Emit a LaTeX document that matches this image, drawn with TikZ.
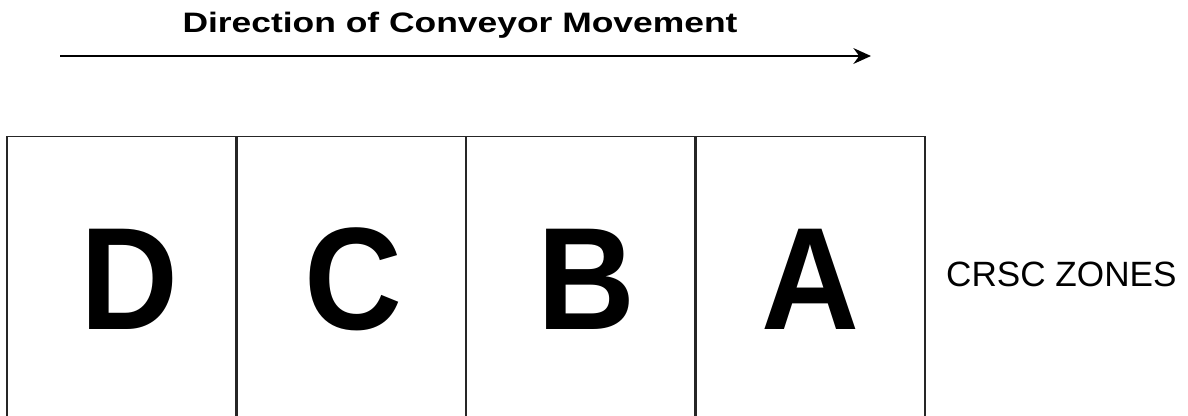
\documentclass[tikz,border=0pt]{standalone}
\usepackage{fontspec}
\setmainfont{Liberation Sans}
\newfontfamily\widefont[FakeStretch=1.26]{Liberation Sans}
\newfontfamily\zonefont[FakeStretch=0.93]{Liberation Sans}
\usetikzlibrary{arrows.meta}

\begin{document}
\begin{tikzpicture}[
    x=0.02cm,
    y=-0.02cm,
    zone/.style={
        rectangle,
        draw=black!85,
        line width=0.9pt,
        minimum width=4.6cm,
        minimum height=5.7cm,
        inner sep=0pt,
        font=\zonefont\fontsize{83}{90}\selectfont\bfseries
    },
    arrow/.style={
        -{Stealth[length=10pt,width=9pt]},
        line width=1pt
    }
]

\clip (0,0) rectangle (1188,416);

\node[font=\widefont\fontsize{16}{18}\selectfont\bfseries] (title) at (460,25) {Direction of Conveyor Movement};

\coordinate (start) at (60,56);
\coordinate (end) at (871,56);
\draw[arrow] (start) -- (end);

\node[zone] (zoneD) at (122,279) {\hspace{8pt}D};
\node[zone] (zoneC) at (351,279) {\hspace{3pt}C};
\node[zone] (zoneB) at (581,279) {\hspace{6pt}B};
\node[zone] (zoneA) at (810,279) {A};

\node[font=\fontsize{20}{22}\selectfont, anchor=west] (zones) at (940,274) {CRSC ZONES};

\end{tikzpicture}
\end{document}
